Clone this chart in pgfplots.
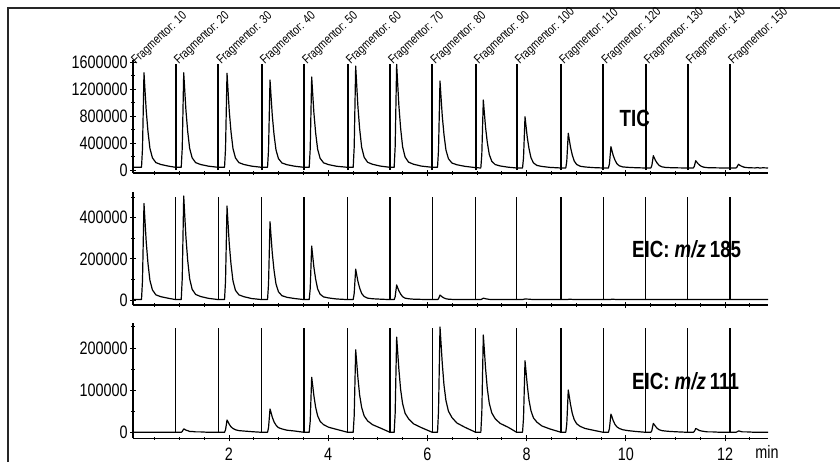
\documentclass[border=0pt]{standalone}
\usepackage{fontspec}
\setmainfont{Liberation Sans}[FakeStretch=0.8]
\newfontfamily\labfam{Liberation Sans}[FakeStretch=0.8]
\usepackage{pgfplots}
\pgfplotsset{compat=1.18}
\pgfplotsset{
  chrom/.style={
    scale only axis, width=317.5pt,
    xmin=0.0645, xmax=12.867,
    axis x line*=bottom, axis y line*=left,
    axis line style={line width=0.65pt},
    tick align=center,
    major tick length=3pt, minor tick length=1.6pt,
    every tick/.style={black, line width=0.5pt},
    xtick={2,4,...,12}, minor xtick={0.5,1,...,12.5},
    ticklabel style={font=\fontsize{9}{10}\selectfont},
    yticklabel style={inner sep=1pt},
    clip=false,
  },
  trace/.style={black, line width=0.6pt, line join=round},
}
\tikzset{flab/.style={anchor=base west, inner sep=0pt, xshift=1.4pt, yshift=-0.4pt, rotate=43, font=\fontsize{6.3}{7}\selectfont}}
\newcommand\biglab{\labfam\bfseries\fontsize{11.7}{13}\selectfont}
\begin{document}
\begin{tikzpicture}
\useasboundingbox (0,0) rectangle (420pt,-231pt);
\draw[line width=0.6pt, black!85] (4pt,-231pt) -- (4pt,-4pt) -- (420pt,-4pt);
\node[anchor=base west, inner sep=0pt, font=\biglab] at (309.65pt,-63.35pt) {TIC};
\node[anchor=base west, inner sep=0pt, font=\biglab] at (315.85pt,-128.67pt) {EIC: \textit{m/z}\,185};
\node[anchor=base west, inner sep=0pt, font=\biglab] at (315.85pt,-194.67pt) {EIC: \textit{m/z}\,111};

% ---------------- TIC ----------------
\begin{axis}[chrom, at={(66.5pt,-86.5pt)}, anchor=south west, height=56.5pt,
  ymin=-44.6, ymax=1636,
  ytick={0,400,800,1200,1600}, yticklabels={0,400000,800000,1200000,1600000},
  minor ytick={200,600,1000,1400},
  xticklabels={}]
\addplot[black, line width=1pt, unbounded coords=jump] coordinates {
(0.925,0)(0.925,1576)(0.925,nan)(1.784,0)(1.784,1576)(1.784,nan)(2.659,0)(2.659,1576)(2.659,nan)
(3.512,0)(3.512,1576)(3.512,nan)(4.393,0)(4.393,1576)(4.393,nan)(5.246,0)(5.246,1576)(5.246,nan)
(6.099,0)(6.099,1576)(6.099,nan)(6.974,0)(6.974,1576)(6.974,nan)(7.800,0)(7.800,1576)(7.800,nan)
(8.694,0)(8.694,1576)(8.694,nan)(9.546,0)(9.546,1576)(9.546,nan)(10.401,0)(10.401,1576)(10.401,nan)
(11.248,0)(11.248,1576)(11.248,nan)(12.100,0)(12.100,1576)};
\addplot[trace] coordinates {
(0.065,40)
(0.236,40)(0.256,321)(0.271,884)(0.286,1447)(0.306,1194)(0.331,884)(0.366,575)(0.406,321)(0.456,181)(0.526,110)(0.626,82)(0.786,57)(0.925,40)
(1.037,40)(1.057,321)(1.072,884)(1.087,1447)(1.107,1194)(1.132,884)(1.167,575)(1.207,321)(1.257,181)(1.327,110)(1.427,82)(1.587,57)(1.784,40)
(1.910,40)(1.930,320)(1.945,880)(1.960,1440)(1.980,1188)(2.005,880)(2.040,572)(2.080,320)(2.130,180)(2.200,110)(2.300,82)(2.460,57)(2.659,40)
(2.777,40)(2.797,300)(2.812,819)(2.827,1338)(2.847,1104)(2.872,819)(2.907,533)(2.947,300)(2.997,170)(3.067,105)(3.167,79)(3.327,56)(3.512,40)
(3.617,40)(3.637,309)(3.652,846)(3.667,1383)(3.687,1141)(3.712,846)(3.747,550)(3.787,309)(3.837,174)(3.907,107)(4.007,80)(4.167,56)(4.393,40)
(4.504,40)(4.524,341)(4.539,944)(4.554,1546)(4.574,1275)(4.599,944)(4.634,612)(4.674,341)(4.724,191)(4.794,115)(4.894,85)(5.054,58)(5.246,40)
(5.330,40)(5.350,346)(5.365,958)(5.380,1570)(5.400,1295)(5.425,958)(5.460,621)(5.500,346)(5.550,193)(5.620,117)(5.720,86)(5.880,58)(6.099,40)
(6.204,40)(6.224,297)(6.239,810)(6.254,1323)(6.274,1092)(6.299,810)(6.334,528)(6.374,297)(6.424,168)(6.494,104)(6.594,78)(6.754,55)(6.974,35)
(7.077,30)(7.097,232)(7.112,637)(7.127,1041)(7.147,859)(7.172,637)(7.207,414)(7.247,232)(7.297,131)(7.367,81)(7.467,60)(7.627,42)(7.800,30)
(7.918,30)(7.938,183)(7.953,488)(7.968,793)(7.988,656)(8.013,488)(8.048,320)(8.088,183)(8.138,106)(8.208,68)(8.308,53)(8.468,39)(8.694,30)
(8.790,30)(8.810,133)(8.825,340)(8.840,546)(8.860,453)(8.885,340)(8.920,226)(8.960,133)(9.010,82)(9.080,56)(9.180,45)(9.340,36)(9.546,30)
(9.650,30)(9.670,93)(9.685,220)(9.700,347)(9.720,290)(9.745,220)(9.780,150)(9.820,93)(9.870,62)(9.940,46)(10.040,40)(10.200,34)(10.401,30)
(10.505,30)(10.525,67)(10.540,140)(10.555,213)(10.575,180)(10.600,140)(10.635,100)(10.675,67)(10.725,48)(10.795,39)(10.895,35)(11.055,32)(11.248,30)
(11.360,30)(11.380,52)(11.395,95)(11.410,138)(11.430,119)(11.455,95)(11.490,71)(11.530,52)(11.580,41)(11.650,35)(11.750,33)(11.910,31)(12.100,30)
(12.220,30)(12.240,41)(12.255,63)(12.270,85)(12.290,75)(12.315,63)(12.350,51)(12.390,41)(12.440,36)(12.510,33)(12.610,31)(12.650,36)(12.700,30)(12.770,33)(12.867,30)};
\node[flab] at (axis cs:0.0645,1576) {Fragmentor: 10};
\node[flab] at (axis cs:0.925,1576) {Fragmentor: 20};
\node[flab] at (axis cs:1.784,1576) {Fragmentor: 30};
\node[flab] at (axis cs:2.659,1576) {Fragmentor: 40};
\node[flab] at (axis cs:3.512,1576) {Fragmentor: 50};
\node[flab] at (axis cs:4.393,1576) {Fragmentor: 60};
\node[flab] at (axis cs:5.246,1576) {Fragmentor: 70};
\node[flab] at (axis cs:6.099,1576) {Fragmentor: 80};
\node[flab] at (axis cs:6.974,1576) {Fragmentor: 90};
\node[flab] at (axis cs:7.800,1576) {Fragmentor: 100};
\node[flab] at (axis cs:8.694,1576) {Fragmentor: 110};
\node[flab] at (axis cs:9.546,1576) {Fragmentor: 120};
\node[flab] at (axis cs:10.401,1576) {Fragmentor: 130};
\node[flab] at (axis cs:11.248,1576) {Fragmentor: 140};
\node[flab] at (axis cs:12.100,1576) {Fragmentor: 150};
\end{axis}

% ---------------- EIC 185 ----------------
\begin{axis}[chrom, at={(66.5pt,-152.5pt)}, anchor=south west, height=56.65pt,
  ymin=-24.3, ymax=525.7,
  ytick={0,200,400}, yticklabels={0,200000,400000},
  minor ytick={100,300,500},
  xticklabels={}]
\addplot[black, line width=0.55pt, unbounded coords=jump] coordinates {
(0.925,0)(0.925,501.5)(0.925,nan)(1.784,0)(1.784,501.5)(1.784,nan)(2.659,0)(2.659,501.5)(2.659,nan)
(3.512,0)(3.512,501.5)(3.512,nan)(4.393,0)(4.393,501.5)(4.393,nan)(5.246,0)(5.246,501.5)(5.246,nan)
(6.099,0)(6.099,501.5)(6.099,nan)(6.974,0)(6.974,501.5)(6.974,nan)(7.800,0)(7.800,501.5)(7.800,nan)
(8.694,0)(8.694,501.5)(8.694,nan)(9.546,0)(9.546,501.5)(9.546,nan)(10.401,0)(10.401,501.5)(10.401,nan)
(11.248,0)(11.248,501.5)(11.248,nan)(12.100,0)(12.100,501.5)};
\addplot[trace] coordinates {
(0.065,2)
(0.236,2)(0.256,95)(0.271,282)(0.286,469)(0.306,385)(0.331,282)(0.366,179)(0.406,95)(0.456,49)(0.526,25)(0.626,16)(0.786,8)(0.925,2)
(1.037,2)(1.057,103)(1.072,304)(1.087,505)(1.107,414)(1.132,304)(1.167,193)(1.207,103)(1.257,52)(1.327,27)(1.427,17)(1.587,8)(1.784,2)
(1.910,2)(1.930,93)(1.945,274)(1.960,456)(1.980,374)(2.005,274)(2.040,175)(2.080,93)(2.130,47)(2.200,25)(2.300,16)(2.460,7)(2.659,2)
(2.777,2)(2.797,78)(2.812,229)(2.827,380)(2.847,312)(2.872,229)(2.907,146)(2.947,78)(2.997,40)(3.067,21)(3.167,13)(3.327,7)(3.512,2)
(3.617,2)(3.637,54)(3.652,158)(3.667,262)(3.687,215)(3.712,158)(3.747,101)(3.787,54)(3.837,28)(3.907,15)(4.007,10)(4.167,5)(4.393,2)
(4.504,2)(4.524,32)(4.539,91)(4.554,150)(4.574,123)(4.599,91)(4.634,58)(4.674,32)(4.724,17)(4.794,9)(4.894,6)(5.054,4)(5.246,2)
(5.330,2)(5.350,16)(5.365,45)(5.380,73)(5.400,60)(5.425,45)(5.460,29)(5.500,16)(5.550,9)(5.620,6)(5.720,4)(5.880,3)(6.099,2)
(6.204,2)(6.224,6)(6.239,15)(6.254,24)(6.274,20)(6.299,15)(6.334,10)(6.374,6)(6.424,4)(6.494,3)(6.594,2)(6.974,2)
(7.077,2)(7.112,6)(7.127,9)(7.172,6)(7.247,3)(7.367,2)(7.800,2)
(7.918,2)(7.968,5)(8.048,4)(8.138,2)(8.694,2)
(8.825,2)(8.860,4)(8.920,3)(9.000,2)(9.546,2)
(9.685,2)(9.720,4)(9.780,3)(9.850,2)(10.401,2)
(10.540,2)(10.575,3)(10.630,2)(12.867,2)};
\end{axis}

% ---------------- EIC 111 ----------------
\begin{axis}[chrom, at={(66.5pt,-219.15pt)}, anchor=south west, height=57.5pt,
  ymin=-13.2, ymax=258.6,
  ytick={0,100,200}, yticklabels={0,100000,200000},
  minor ytick={50,150,250},
  xticklabels={2,4,6,8,10,12}]
\addplot[black, line width=0.55pt, unbounded coords=jump] coordinates {
(0.925,0)(0.925,246.8)(0.925,nan)(1.784,0)(1.784,246.8)(1.784,nan)(2.659,0)(2.659,246.8)(2.659,nan)
(3.512,0)(3.512,246.8)(3.512,nan)(4.393,0)(4.393,246.8)(4.393,nan)(5.246,0)(5.246,246.8)(5.246,nan)
(6.099,0)(6.099,246.8)(6.099,nan)(6.974,0)(6.974,246.8)(6.974,nan)(7.800,0)(7.800,246.8)(7.800,nan)
(8.694,0)(8.694,246.8)(8.694,nan)(9.546,0)(9.546,246.8)(9.546,nan)(10.401,0)(10.401,246.8)(10.401,nan)
(11.248,0)(11.248,246.8)(11.248,nan)(12.100,0)(12.100,246.8)};
\addplot[trace] coordinates {
(0.065,1)(1.037,1)
(1.057,3)(1.072,6)(1.087,9)(1.107,8)(1.132,6)(1.167,5)(1.207,3)(1.257,3)(1.327,2)(1.427,2)(1.587,1)(1.784,1)
(1.910,1)(1.930,7)(1.945,18)(1.960,30)(1.980,26)(2.005,20)(2.040,14)(2.080,10)(2.130,7)(2.200,5)(2.300,4)(2.460,2.5)(2.659,1)
(2.777,1)(2.797,12)(2.812,34)(2.827,56)(2.847,48)(2.872,37)(2.907,26)(2.947,18)(2.997,12)(3.067,9)(3.167,6)(3.327,4)(3.512,1)
(3.617,1)(3.637,27)(3.652,79)(3.667,131)(3.687,112)(3.712,87)(3.747,60)(3.787,40)(3.837,27)(3.907,19)(4.007,13)(4.167,8)(4.393,1)
(4.504,1)(4.524,40)(4.539,118)(4.554,196)(4.574,167)(4.599,130)(4.634,89)(4.674,60)(4.724,40)(4.794,28)(4.894,19)(5.054,11)(5.246,1)
(5.330,1)(5.350,46)(5.365,136)(5.380,226)(5.400,192)(5.425,150)(5.460,102)(5.500,69)(5.550,46)(5.620,33)(5.720,21)(5.880,12)(6.099,1)
(6.204,1)(6.224,51)(6.239,150)(6.254,250)(6.274,213)(6.299,165)(6.334,113)(6.374,76)(6.424,51)(6.494,36)(6.594,23)(6.754,13)(6.974,1)
(7.077,1)(7.097,47)(7.112,139)(7.127,231)(7.147,197)(7.172,153)(7.207,105)(7.247,70)(7.297,47)(7.367,33)(7.467,22)(7.627,13)(7.800,1)
(7.918,1)(7.938,35)(7.953,102)(7.968,170)(7.988,145)(8.013,113)(8.048,77)(8.088,52)(8.138,35)(8.208,25)(8.308,16)(8.468,9)(8.694,1)
(8.790,1)(8.810,21)(8.825,61)(8.840,101)(8.860,86)(8.885,67)(8.920,46)(8.960,31)(9.010,21)(9.080,15)(9.180,10)(9.340,6)(9.546,1)
(9.650,1)(9.670,10)(9.685,27)(9.700,44)(9.720,38)(9.745,29)(9.780,20)(9.820,14)(9.870,10)(9.940,7)(10.040,5)(10.200,3)(10.401,1)
(10.505,1)(10.525,5)(10.540,14)(10.555,22)(10.575,19)(10.600,15)(10.635,10)(10.675,7)(10.725,5)(10.795,4)(10.895,3)(11.055,2)(11.248,1)
(11.360,1)(11.380,3)(11.395,6)(11.410,10)(11.430,9)(11.455,7)(11.490,5)(11.530,4)(11.580,3)(11.650,2)(11.750,2)(11.910,1)(12.100,1)
(12.220,1)(12.240,2)(12.255,3)(12.270,4)(12.290,4)(12.315,3)(12.350,2)(12.440,2)(12.610,1)(12.867,1)};
\node[anchor=base, inner sep=0pt, font=\fontsize{9}{10}\selectfont] at (rel axis cs:0.9984,0) [yshift=-9.85pt] {min};
\end{axis}
\end{tikzpicture}
\end{document}
